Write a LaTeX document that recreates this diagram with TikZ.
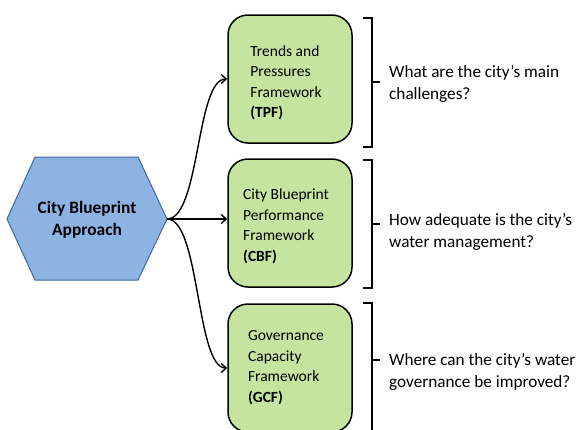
\documentclass[tikz,border=0pt]{standalone}
\usepackage{fontspec}
\setmainfont{Carlito}
\usetikzlibrary{arrows.meta}
\definecolor{hexfill}{HTML}{8DB3E2}
\definecolor{hexdraw}{HTML}{3F6799}
\definecolor{boxfill}{HTML}{C4E4A0}
\begin{document}
\begin{tikzpicture}[x=1pt,y=-1pt,
  hexshape/.style={draw=hexdraw,fill=hexfill,line width=1pt,line join=miter},
  hextext/.style={align=center,inner sep=0pt,font=\fontsize{17.4}{22}\selectfont\bfseries},
  fbox/.style={draw=black,fill=boxfill,line width=1.5pt,rounded corners=20pt,minimum width=124pt,inner sep=0pt},
  ftext/.style={align=left,inner sep=0pt,font=\fontsize{15.5}{20.5}\selectfont},
  qtext/.style={align=left,inner sep=0pt,anchor=west,font=\fontsize{17.2}{22}\selectfont},
  brk/.style={draw=black,line width=1.4pt},
  arr/.style={draw=black,line width=1.4pt,-{Straight Barb[length=5pt,width=9pt]}}
]
\useasboundingbox (0,0) rectangle (581,429);
\clip (0,0) rectangle (581,429);

% hexagon
\draw[hexshape] (7,219) -- (35,157) -- (138,157) -- (167,219) -- (138,280) -- (35,280) -- cycle;
\node[hextext] (hex) at (87,220) {City Blueprint\\Approach};
\coordinate (hexR) at (167,219);

% boxes
\node[fbox,minimum height=128pt] (tpf) at (290,79) {};
\node[fbox,minimum height=128pt] (cbf) at (290,223) {};
\node[fbox,minimum height=128pt] (gcf) at (290,368) {};

\node[ftext] (tpft) at (286,83) {Trends and\\Pressures\\Framework\\\textbf{(TPF)}};
\node[ftext] (cbft) at (286,226.5) {City Blueprint\\Performance\\Framework\\\textbf{(CBF)}};
\node[ftext] (gcft) at (286,367.5) {Governance\\Capacity\\Framework\\\textbf{(GCF)}};

% connectors
\draw[arr] (hexR) .. controls (200,219) and (196,79) .. (tpf.west);
\draw[arr] (hexR) -- (hexR -| cbf.west);
\draw[arr] (hexR) .. controls (200,219) and (196,368) .. (gcf.west);

% brackets
\draw[brk] (363,18) -- (372,18) -- (372,147) -- (363,147);
\draw[brk] (372,82) -- (380,82);
\draw[brk] (363,160) -- (372,160) -- (372,288) -- (363,288);
\draw[brk] (372,224) -- (380,224);
\draw[brk] (363,303) -- (372,303) -- (372,440);
\draw[brk] (372,360) -- (380,360);

% questions
\node[qtext] (q1) at (389,84) {What are the city’s main\\challenges?};
\node[qtext] (q2) at (389,232) {How adequate is the city’s\\water management?};
\node[qtext] (q3) at (389,371.5) {Where can the city’s water\\governance be improved?};
\end{tikzpicture}
\end{document}
